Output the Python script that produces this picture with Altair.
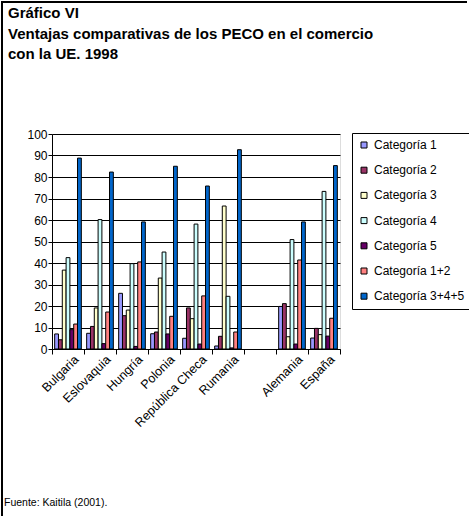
import altair as alt
import pandas as pd

countries = ["Bulgaria", "Eslovaquia", "Hungría", "Polonia", "República Checa",
             "Rumania", " ", "Alemania", "España"]
series = ["Categoría 1", "Categoría 2", "Categoría 3", "Categoría 4",
          "Categoría 5", "Categoría 1+2", "Categoría 3+4+5"]
colors = ["#9999FF", "#993366", "#FFFFCC", "#CCFFFF", "#660066", "#FF8080", "#0066CC"]

values = {
    "Bulgaria":        [7.0, 4.3, 36.7, 42.5, 9.0, 11.6, 88.8],
    "Eslovaquia":      [7.3, 10.5, 19.1, 60.2, 2.5, 17.2, 82.3],
    "Hungría":         [25.9, 15.5, 18.1, 39.7, 1.2, 40.5, 59.1],
    "Polonia":         [7.1, 7.9, 33.0, 45.1, 7.0, 15.2, 85.0],
    "República Checa": [5.0, 19.1, 14.1, 58.1, 2.3, 24.7, 75.8],
    "Rumania":         [1.4, 5.9, 66.5, 24.5, 0.5, 7.9, 92.7],
    "Alemania":        [19.8, 21.1, 5.7, 50.9, 2.3, 41.4, 59.1],
    "España":          [5.1, 9.6, 6.7, 73.3, 6.0, 14.3, 85.3],
}

title_lines = ["Gráfico VI",
               "Ventajas comparativas de los PECO en el comercio",
               "con la UE. 1998"]
source_text = "Fuente: Kaitila (2001)."

rows = []
for c, vals in values.items():
    for s, v in zip(series, vals):
        rows.append({"pais": c, "serie": s, "valor": v})
df = pd.DataFrame(rows)

FONT = "Liberation Sans"

bars = alt.Chart(df).mark_bar(stroke="black", strokeWidth=1).encode(
    x=alt.X("pais:N", sort=countries,
            scale=alt.Scale(domain=countries, paddingInner=0, paddingOuter=0),
            axis=alt.Axis(title=None, labelAngle=-45, labelAlign="right",
                          labelBaseline="middle", tickBand="extent",
                          labelFontSize=12.5, labelColor="black",
                          domainColor="black", tickColor="black", tickSize=5,
                          labelPadding=3, labelOffset=8, grid=False)),
    xOffset=alt.XOffset("serie:N", sort=series,
                        scale=alt.Scale(domain=series, paddingInner=0, paddingOuter=0.7)),
    y=alt.Y("valor:Q", scale=alt.Scale(domain=[0, 100], nice=False),
            axis=alt.Axis(title=None, values=list(range(0, 101, 10)),
                          labelFontSize=12, labelColor="black",
                          domainColor="black", tickColor="black", tickSize=4,
                          gridColor="black", gridOpacity=1, gridWidth=1,
                          labelPadding=1)),
    color=alt.Color("serie:N", sort=series,
                    scale=alt.Scale(domain=series, range=colors),
                    legend=alt.Legend(title=None, orient="none", legendX=300, legendY=-1,
                                      symbolType="square", symbolSize=36,
                                      symbolStrokeColor="black", symbolStrokeWidth=1,
                                      labelFontSize=12, labelColor="black",
                                      labelOffset=4, rowPadding=13.2,
                                      padding=6, strokeColor="black",
                                      fillColor="white")),
)

one = pd.DataFrame({"k": [0]})

title = alt.Chart(one).mark_text(
    text=title_lines, align="left", baseline="top", font=FONT, fontSize=15,
    fontWeight="bold", lineHeight=20.5, color="black"
).encode(x=alt.value(-44), y=alt.value(-128))

source = alt.Chart(one).mark_text(
    text=source_text, align="left", baseline="alphabetic", font=FONT, fontSize=10.5,
    color="black"
).encode(x=alt.value(-48), y=alt.value(372))

frame_left = alt.Chart(one).mark_rule(color="black", strokeWidth=2).encode(
    x=alt.value(-50), y=alt.value(-133), y2=alt.value(382))
frame_top = alt.Chart(one).mark_rule(color="black", strokeWidth=2).encode(
    x=alt.value(-51), x2=alt.value(415), y=alt.value(-132))

chart = alt.layer(bars, title, source, frame_left, frame_top).properties(
    width=288, height=215,
    padding={"left": 52, "top": 134, "right": 129, "bottom": 167},
    autosize=alt.AutoSizeParams(type="none"),
    background="white",
).configure_view(fill="#C0C0C0", stroke=None).configure(font=FONT)

chart.save("out.html", embed_options={"renderer": "svg", "actions": False})
